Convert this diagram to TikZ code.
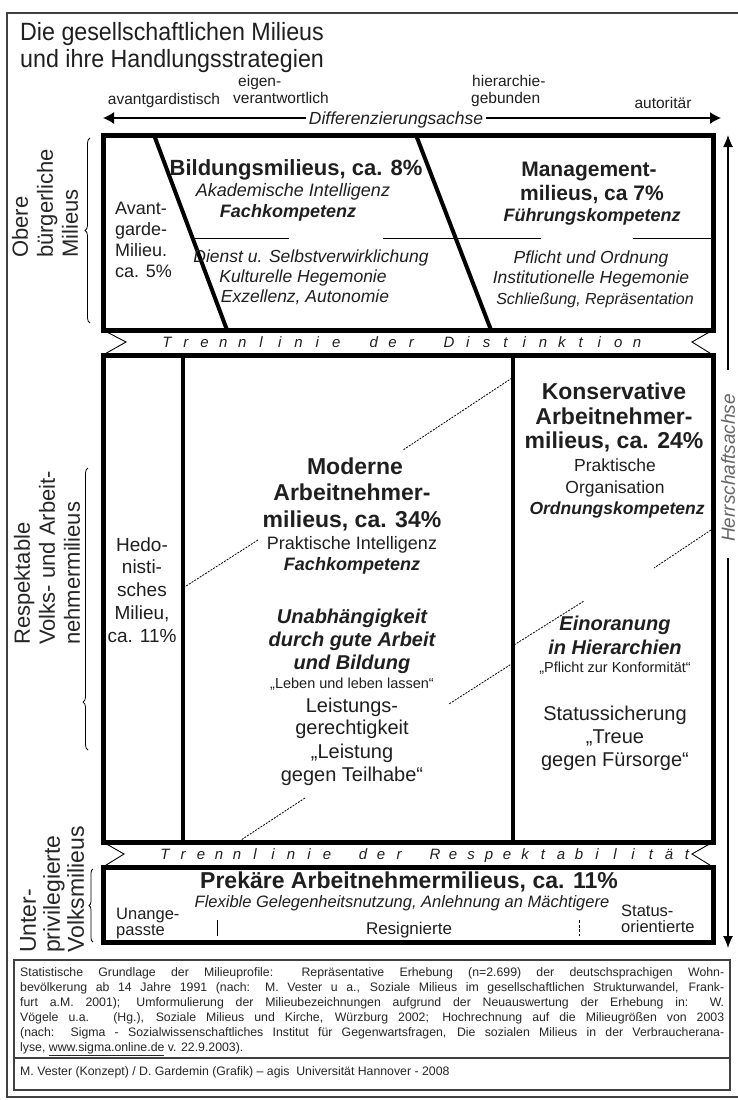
\documentclass[tikz,border=0pt]{standalone}
\usepackage{fontspec}
\setmainfont{Liberation Sans}
\usetikzlibrary{arrows.meta,decorations.pathreplacing}
\newcommand\Txt[6][]{\node[tx,#1] (#2) at (#3,{#4+0.36*#5}) {\fontsize{#5pt}{#5pt}\selectfont #6};}
\begin{document}
\begin{tikzpicture}[x=1pt,y=-1pt,
  tx/.style={anchor=base,inner sep=0pt,align=center,text=black!88},
  bigbox/.style={line width=5pt},
  sepline/.style={line width=4pt},
  thinline/.style={line width=0.9pt},
  dl/.style={line width=0.8pt,dash pattern=on 2pt off 1.2pt},
  axis/.style={line width=1.3pt,{Latex[length=11pt,width=12pt]}-{Latex[length=11pt,width=12pt]}},
  haxis/.style={line width=1.2pt,-{Latex[length=12pt,width=10pt]}},
  brc/.style={decorate,decoration={brace,amplitude=5pt},line width=0.8pt},
  rot/.style={rotate=90,anchor=west,align=left,inner sep=0pt,text=black!85},
  fn/.style={anchor=base west,inner sep=0pt,text=black!85,font={\fontsize{12.3pt}{14pt}\selectfont}}]
\useasboundingbox (0,0) rectangle (738,1100);
\fill[white] (0,0) rectangle (738,1100);
% outer frame
\draw[line width=1.5pt,black!75] (738,13) -- (7,13) -- (7,1097) -- (738,1097);
% title
\Txt[anchor=base west]{t1}{20}{31}{25}{\scalebox{0.93}[1]{Die gesellschaftlichen Milieus}}
\Txt[anchor=base west]{t2}{20}{58}{25}{\scalebox{0.93}[1]{und ihre Handlungsstrategien}}
% header labels
\Txt{h1}{164}{99}{15.5}{avantgardistisch}
\Txt[anchor=base west]{h2a}{238}{81}{15.5}{eigen-}
\Txt[anchor=base west]{h2b}{233}{98}{15.5}{verantwortlich}
\Txt[anchor=base west]{h3a}{472}{81}{15.5}{hierarchie-}
\Txt[anchor=base west]{h3b}{471}{98}{15.5}{gebunden}
\Txt{h4}{663}{103}{15.5}{autoritär}
% Differenzierungsachse
\coordinate (dL) at (103,118);
\coordinate (dR) at (721,118);
\draw[axis] (dL) -- (dR);
\Txt[fill=white,inner xsep=3pt]{dax}{396}{118}{17.5}{\itshape Differenzierungsachse}
% Herrschaftsachse
\coordinate (hT) at (728,135);
\coordinate (hB) at (728,948);
\node[rotate=90,inner sep=0pt,text=black!60] (hax) at (728,468) {\fontsize{19pt}{19pt}\selectfont\itshape Herrschaftsachse};
\coordinate (hA) at (728,370);
\coordinate (hC) at (728,558);
\draw[haxis] (hA) -- (hT);
\draw[haxis] (hC) -- (hB);
% ---------------- upper box
\draw[bigbox] (103,135) rectangle (713,330);
\draw[sepline] (154,135) -- (227,330);
\draw[sepline] (416,135) -- (491,330);
\draw[thinline] (194,238) -- (289,238);
\draw[thinline] (383,238) -- (541,238);
\draw[thinline] (633,238) -- (713,238);
\Txt[anchor=base west]{av1}{115}{208}{18}{Avant-}
\Txt[anchor=base west]{av2}{115}{229}{18}{garde-}
\Txt[anchor=base west]{av3}{115}{250}{18}{Milieu.}
\Txt[anchor=base west]{av4}{115}{271}{18}{ca. 5\%}
\Txt{b1}{296}{168}{22}{\bfseries Bildungsmilieus, ca. 8\%}
\Txt{b2}{293}{190}{18}{\itshape Akademische Intelligenz}
\Txt{b3}{288}{211}{18}{\bfseries\itshape Fachkompetenz}
\Txt{b4}{311}{256}{17.5}{\itshape Dienst u. Selbstverwirklichung}
\Txt{b5}{303}{276}{17.5}{\itshape Kulturelle Hegemonie}
\Txt{b6}{305}{296}{17.5}{\itshape Exzellenz, Autonomie}
\Txt{m1}{589}{169}{21}{\bfseries Management-}
\Txt{m2}{592}{193}{21}{\bfseries milieus, ca 7\%}
\Txt{m3}{592}{215}{18}{\bfseries\itshape Führungskompetenz}
\Txt{m4}{591}{257}{17.5}{\itshape Pflicht und Ordnung}
\Txt{m5}{591}{277}{17.5}{\itshape Institutionelle Hegemonie}
\Txt{m6}{595}{299}{16}{\itshape Schließung, Repräsentation}
% Trennlinie der Distinktion
\foreach \c [count=\i from 0] in {T,r,e,n,n,l,i,n,i,e,,d,e,r,,D,i,s,t,i,n,k,t,i,o,n}{
  \node[tx] (tdi\i) at ({167+\i*18.8},{342+0.36*15}) {\fontsize{15pt}{15pt}\selectfont\itshape\c};}
\draw[thinline] (103,330) -- (126,342) -- (103,355);
\draw[thinline] (713,330) -- (692,342) -- (713,355);
% ---------------- middle box
\draw[bigbox] (103,355) rectangle (713,842);
\draw[sepline] (183,355) -- (183,842);
\draw[sepline] (513,355) -- (513,842);
\draw[dl] (512,378) -- (403,450);
\draw[dl] (258,540) -- (183,588);
\draw[dl] (711,530) -- (654,568);
\draw[dl] (514,645) -- (584,601);
\draw[dl] (513,663) -- (449,704);
\draw[dl] (305,798) -- (241,840);
\Txt{he1}{142}{545}{19}{Hedo-}
\Txt{he2}{142}{567}{19}{nisti-}
\Txt{he3}{142}{590}{19}{sches}
\Txt{he4}{142}{613}{19}{Milieu,}
\Txt{he5}{142}{636}{19}{ca. 11\%}
\Txt{mo1}{355}{466}{23}{\bfseries Moderne}
\Txt{mo2}{352}{492}{23}{\bfseries Arbeitnehmer-}
\Txt{mo3}{352}{519}{23}{\bfseries milieus, ca. 34\%}
\Txt{mo4}{352}{543}{18}{Praktische Intelligenz}
\Txt{mo5}{352}{564}{18}{\bfseries\itshape Fachkompetenz}
\Txt{mo6}{352}{616}{20}{\bfseries\itshape Unabhängigkeit}
\Txt{mo7}{352}{639}{20}{\bfseries\itshape durch gute Arbeit}
\Txt{mo8}{352}{662}{20}{\bfseries\itshape und Bildung}
\Txt{mo9}{352}{683}{14.5}{„Leben und leben lassen“}
\Txt{mo10}{352}{705}{20}{Leistungs-}
\Txt{mo11}{352}{727}{20}{gerechtigkeit}
\Txt{mo12}{352}{751}{20}{„Leistung}
\Txt{mo13}{352}{774}{20}{gegen Teilhabe“}
\Txt{k1}{614}{391}{23}{\bfseries Konservative}
\Txt{k2}{614}{416}{23}{\bfseries Arbeitnehmer-}
\Txt{k3}{614}{440}{23}{\bfseries milieus, ca. 24\%}
\Txt{k4}{615}{465}{17.5}{Praktische}
\Txt{k5}{615}{487}{17.5}{Organisation}
\Txt{k6}{617}{508}{17.5}{\bfseries\itshape Ordnungskompetenz}
\Txt{k7}{615}{623}{20}{\bfseries\itshape Einoranung}
\Txt{k8}{615}{647}{20}{\bfseries\itshape in Hierarchien}
\Txt{k9}{615}{667}{14.5}{„Pflicht zur Konformität“}
\Txt{k10}{615}{713}{20}{Statussicherung}
\Txt{k11}{615}{736}{20}{„Treue}
\Txt{k12}{615}{759}{20}{gegen Fürsorge“}
% Trennlinie der Respektabilität
\foreach \c [count=\i from 0] in {T,r,e,n,n,l,i,n,i,e,,d,e,r,,R,e,s,p,e,k,t,a,b,i,l,i,t,ä,t}{
  \node[tx] (tre\i) at ({165+\i*18.0},{854+0.36*15}) {\fontsize{15pt}{15pt}\selectfont\itshape\c};}
\draw[thinline] (103,842) -- (124,854) -- (103,867);
\draw[thinline] (713,842) -- (692,854) -- (713,867);
% ---------------- bottom box
\draw[bigbox] (103,867) rectangle (713,942);
\Txt{p1}{409}{880}{23}{\bfseries Prekäre Arbeitnehmermilieus, ca. 11\%}
\Txt{p2}{402}{902}{16.5}{\itshape Flexible Gelegenheitsnutzung, Anlehnung an Mächtigere}
\Txt[anchor=base west]{p3}{116}{914}{16.5}{Unange-}
\Txt[anchor=base west]{p4}{116}{930}{16.5}{passte}
\Txt{p5}{409}{928}{17}{Resignierte}
\Txt[anchor=base west]{p6}{621}{911}{16.5}{Status-}
\Txt[anchor=base west]{p7}{621}{927}{16.5}{orientierte}
\draw[thinline] (217,920) -- (217,936);
\draw[thinline,dash pattern=on 3pt off 1.5pt] (579,920) -- (579,936);
% left labels and braces
\node[rot,font={\fontsize{22pt}{25pt}\selectfont}] (lo) at (45,258) {Obere\\bürgerliche\\Milieus};
\node[rot,font={\fontsize{22pt}{25pt}\selectfont}] (lr) at (47,645) {Respektable\\Volks- und Arbeit-\\nehmermilieus};
\node[rot,font={\fontsize{23pt}{24pt}\selectfont}] (lu) at (52,953) {Unter-\\privilegierte\\Volksmilieus};
\draw[brc] (90,323) -- (90,138);
\draw[brc,decoration={aspect=0.17}] (88,750) -- (88,468);
\draw[brc,decoration={amplitude=4pt}] (93,942) -- (93,869);
% ---------------- footnote
\draw[line width=1.5pt,black!75] (14,960) rectangle (730,1090);
\draw[line width=1.2pt,black!75] (14,1058) -- (730,1058);
\node[fn] (f1) at (20,{972+4.5}) {\makebox[704pt][s]{Statistische Grundlage der Milieuprofile: Repräsentative Erhebung (n=2.699) der deutschsprachigen Wohn-}};
\node[fn] (f2) at (20,{987+4.5}) {\makebox[704pt][s]{bevölkerung ab 14 Jahre 1991 (nach: M. Vester u a., Soziale Milieus im gesellschaftlichen Strukturwandel, Frank-}};
\node[fn] (f3) at (20,{1002+4.5}) {\makebox[704pt][s]{furt a.M. 2001); Umformulierung der Milieubezeichnungen aufgrund der Neuauswertung der Erhebung in: W.}};
\node[fn] (f4) at (20,{1017+4.5}) {\makebox[704pt][s]{Vögele u.a. (Hg.), Soziale Milieus und Kirche, Würzburg 2002; Hochrechnung auf die Milieugrößen von 2003}};
\node[fn] (f5) at (20,{1032+4.5}) {\makebox[704pt][s]{(nach: Sigma - Sozialwissenschaftliches Institut für Gegenwartsfragen, Die sozialen Milieus in der Verbraucherana-}};
\node[fn] (f6) at (20,{1047+4.5}) {lyse, \underline{www.sigma.online.de} v. 22.9.2003).};
\node[fn] (f7) at (20,{1071+4.5}) {M. Vester (Konzept) / D. Gardemin (Grafik) – agis\ \ Universität Hannover - 2008};
\end{tikzpicture}
\end{document}
